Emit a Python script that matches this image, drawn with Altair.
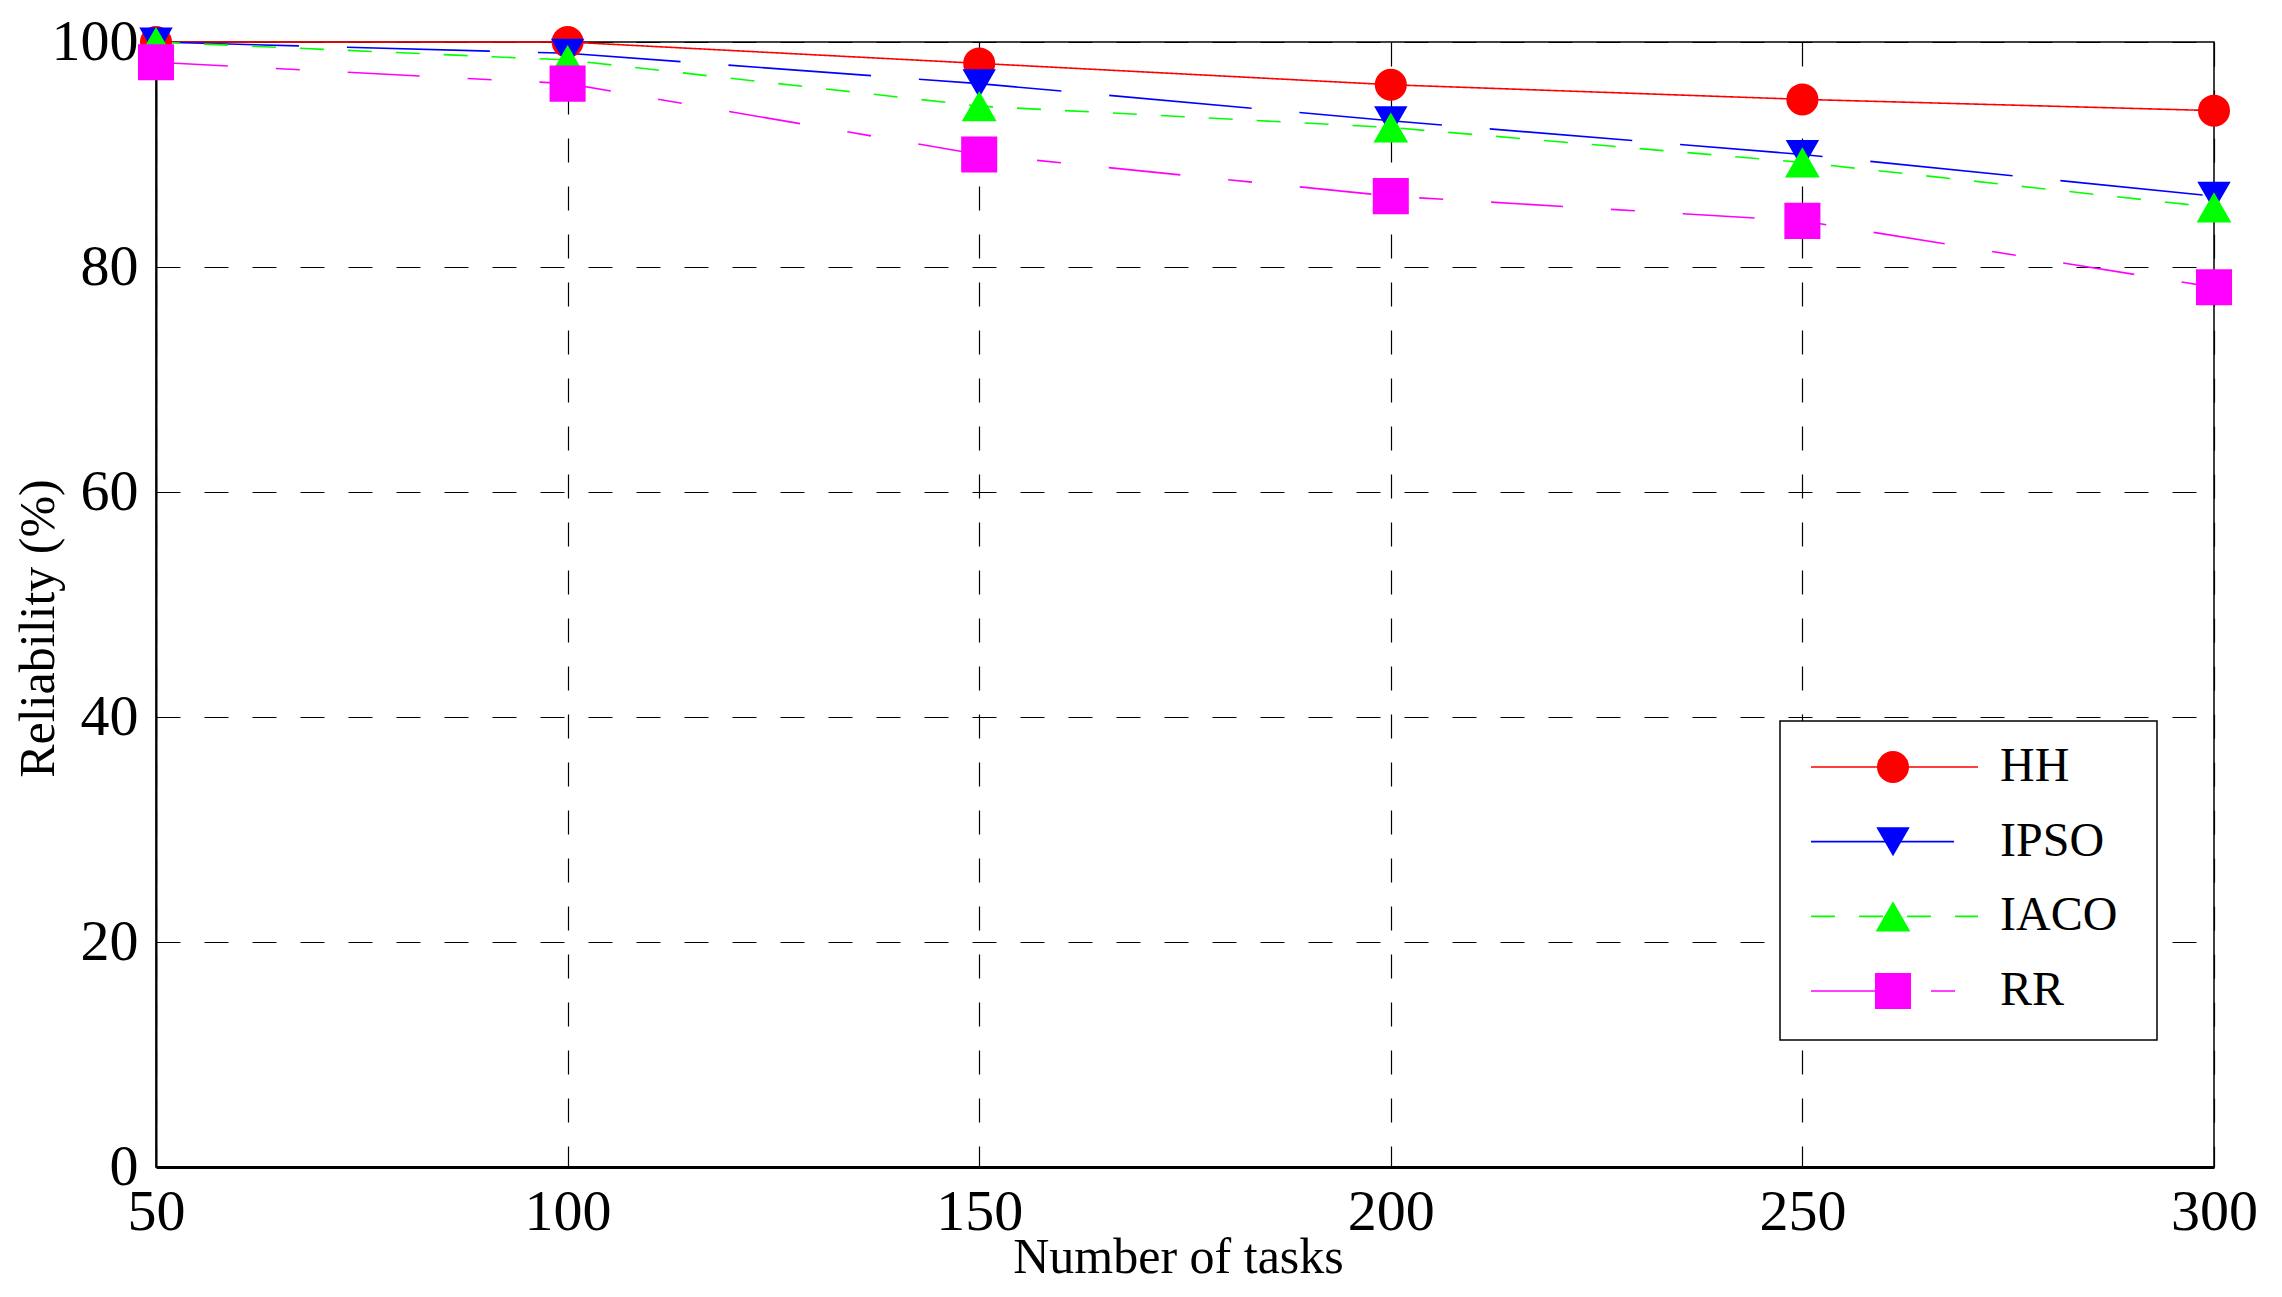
import altair as alt
import pandas as pd

FONT = "Liberation Serif"

tasks = [50, 100, 150, 200, 250, 300]
series = ["HH", "IPSO", "IACO", "RR"]
hh = [100, 100, 98.1, 96.2, 94.9, 93.9]
ipso = [100, 99.0, 96.3, 93.0, 90.0, 86.3]
iaco = [100, 98.4, 94.3, 92.4, 89.3, 85.3]
rr = [98.2, 96.3, 90.0, 86.3, 84.1, 78.2]
y_ticks = [0, 20, 40, 60, 80, 100]

colors = ["#ff0000", "#0000ff", "#00ff00", "#ff00ff"]
dashes = [[1, 0], [143, 48], [24, 24], [72, 48, 24, 48]]
shapes = ["circle", "triangle-down", "triangle-up", "square"]
sizes = [1024, 1300, 1300, 900]

rows = []
for name, vals in zip(series, [hh, ipso, iaco, rr]):
    for t, v in zip(tasks, vals):
        rows.append({"task": t, "reliability": v, "series": name})
df = pd.DataFrame(rows)
leg = pd.DataFrame({"series": series})

color_enc = alt.Color("series:N", scale=alt.Scale(domain=series, range=colors), legend=None)
dash_enc = alt.StrokeDash("series:N", scale=alt.Scale(domain=series, range=dashes), legend=None)
shape_enc = alt.Shape("series:N", scale=alt.Scale(domain=series, range=shapes), legend=None)
size_enc = alt.Size("series:N", scale=alt.Scale(domain=series, range=sizes), legend=None)

x_enc = alt.X(
    "task:Q",
    scale=alt.Scale(domain=[50, 300], nice=False, zero=False),
    axis=alt.Axis(
        values=tasks, title="Number of tasks", ticks=False, labelPadding=16,
        labelFontSize=58, titleFontSize=50, titleX=1022, titleY=105,
        titleBaseline="alphabetic", titleAlign="center", domainWidth=3,
        labelFlush=False, labelOverlap=False, grid=True,
    ),
)
y_scale = alt.Scale(domain=[0, 100], nice=False, zero=True)
y_axis = alt.Axis(
    values=y_ticks, title="Reliability (%)", ticks=False, labelPadding=18,
    labelFontSize=58, titleFontSize=50, titleX=-103, titleY=586,
    titleAngle=270, titleBaseline="alphabetic", titleAlign="center",
    domainWidth=2, labelFlush=False, labelOverlap=False, grid=True,
)

lines = alt.Chart(df).mark_line(strokeWidth=1.6).encode(
    x=x_enc,
    y=alt.Y("reliability:Q", scale=y_scale, axis=y_axis),
    color=color_enc,
    strokeDash=dash_enc,
)

points = alt.Chart(df).mark_point(filled=True, opacity=1, strokeWidth=0).encode(
    x=x_enc,
    y=alt.Y("reliability:Q", scale=y_scale, axis=None),
    color=color_enc,
    shape=shape_enc,
    size=size_enc,
)

ly = alt.Y("series:N", scale=alt.Scale(type="point", domain=series, range=[725, 949], padding=0), axis=None)

box = alt.Chart(pd.DataFrame({"a": [0]})).mark_rect(
    fill="white", stroke="black", strokeWidth=1.5
).encode(x=alt.value(1624), x2=alt.value(2001), y=alt.value(679), y2=alt.value(998))

lrules = alt.Chart(leg).mark_rule(strokeWidth=1.6).encode(
    x=alt.value(1655), x2=alt.value(1822), y=ly, color=color_enc, strokeDash=dash_enc
)
lpoints = alt.Chart(leg).mark_point(filled=True, opacity=1, strokeWidth=0).encode(
    x=alt.value(1737), y=ly, color=color_enc, shape=shape_enc, size=size_enc
)
ltext = alt.Chart(leg).mark_text(
    align="left", baseline="middle", fontSize=48, font=FONT, color="black"
).encode(x=alt.value(1844), y=ly, text="series:N")

chart = (
    alt.layer(lines, points, box, lrules, lpoints, ltext)
    .resolve_scale(y="independent")
    .properties(
        width=2058,
        height=1125,
        autosize=alt.AutoSizeParams(type="none"),
        padding={"left": 148, "top": 34, "right": 60, "bottom": 120},
        background="white",
    )
    .configure_view(stroke="black", strokeWidth=1.5)
    .configure_axis(
        domainColor="black", labelColor="black", titleColor="black",
        labelFont=FONT, titleFont=FONT, titleFontWeight="normal",
        gridColor="black", gridDash=[24, 24], gridWidth=1.2, gridOpacity=1,
    )
)

chart.save("out.html", embed_options={"renderer": "svg", "actions": False})
